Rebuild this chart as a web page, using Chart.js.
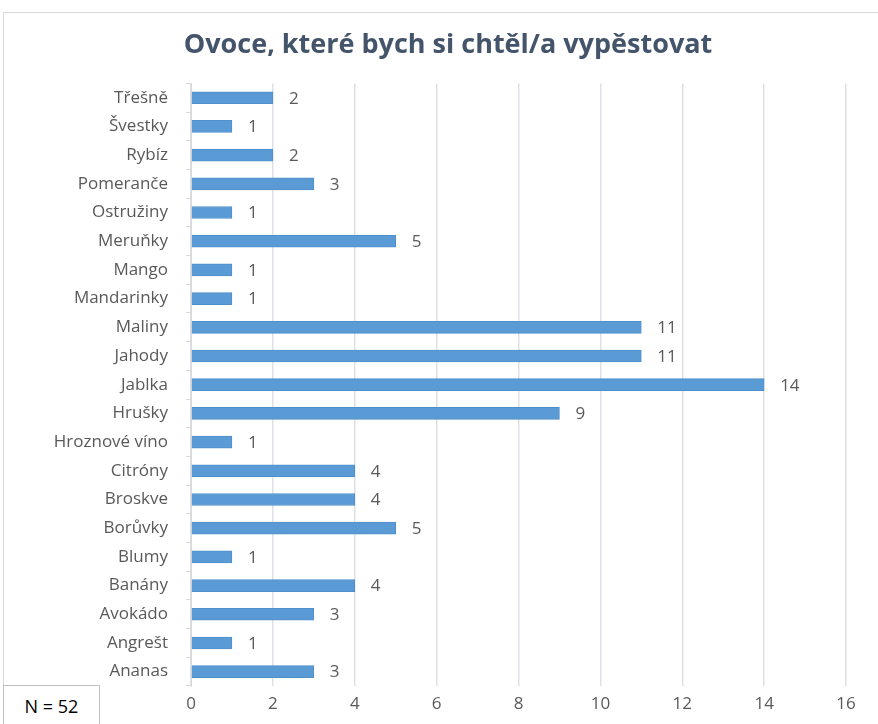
<!DOCTYPE html>
<html>
<head>
<meta charset="utf-8">
<script src="https://cdn.jsdelivr.net/npm/chart.js@4"></script>
<style>
  html, body { margin: 0; padding: 0; background: #fff; }
  #wrap { position: relative; width: 878px; height: 724px; overflow: hidden; }
  #frame { position: absolute; left: 3px; top: 12px; width: 880px; height: 720px; border: 1px solid #d9d9d9; box-sizing: border-box; }
  #n-box { position: absolute; left: 3px; top: 685px; width: 97px; height: 45px; border: 1px solid #bfbfbf; background: #fff;
           font: 18px "Open Sans", sans-serif; color: #000; line-height: 40px; text-align: center; box-sizing: border-box; }
  canvas { position: absolute; left: 0; top: 0; }
</style>
</head>
<body>
<div id="wrap">
  <div id="frame"></div>
  <canvas id="chart" width="878" height="724"></canvas>
  <div id="n-box">N = 52</div>
</div>
<script>
// data, top to bottom
const fruits = ['Třešně', 'Švestky', 'Rybíz', 'Pomeranče', 'Ostružiny', 'Meruňky', 'Mango', 'Mandarinky',
  'Maliny', 'Jahody', 'Jablka', 'Hrušky', 'Hroznové víno', 'Citróny', 'Broskve', 'Borůvky', 'Blumy',
  'Banány', 'Avokádo', 'Angrešt', 'Ananas'];
const counts = [2, 1, 2, 3, 1, 5, 1, 1, 11, 11, 14, 9, 1, 4, 4, 5, 1, 4, 3, 1, 3];
const xTicks = [0, 2, 4, 6, 8, 10, 12, 14, 16];
const chartTitle = 'Ovoce, které bych si chtěl/a vypěstovat';

const FONT = '"Open Sans", sans-serif';
const GREY = '#595959';

// hodnoty za koncem sloupce
const valueLabels = {
  id: 'valueLabels',
  afterDatasetsDraw(chart) {
    const ctx = chart.ctx;
    const meta = chart.getDatasetMeta(0);
    ctx.save();
    ctx.font = '17px ' + FONT;
    ctx.fillStyle = GREY;
    ctx.textAlign = 'left';
    ctx.textBaseline = 'middle';
    meta.data.forEach((bar, i) => {
      ctx.fillText(String(counts[i]), bar.x + 16, bar.y + 1);
    });
    ctx.restore();
  }
};

new Chart(document.getElementById('chart'), {
  type: 'bar',
  data: {
    labels: fruits,
    datasets: [{
      data: counts,
      backgroundColor: '#5b9bd5',
      borderColor: '#4f8fcc',
      borderWidth: 1,
      barThickness: 12
    }]
  },
  options: {
    indexAxis: 'y',
    responsive: false,
    animation: false,
    layout: { padding: { left: 50, right: 32, top: 0, bottom: 0 } },
    plugins: {
      legend: { display: false },
      tooltip: { enabled: false },
      title: {
        display: true,
        text: chartTitle,
        color: '#44546a',
        font: { family: FONT, size: 27, weight: 'bold' },
        padding: { top: 29, bottom: 22 }
      }
    },
    scales: {
      x: {
        min: 0,
        max: 16,
        afterBuildTicks: (scale) => { scale.ticks = xTicks.map(v => ({ value: v })); },
        afterFit: (scale) => { scale.height = 38; },
        grid: { color: '#dde1e7', lineWidth: 1.5, drawTicks: false },
        border: { display: false },
        ticks: { color: GREY, font: { family: FONT, size: 17 }, padding: 8 }
      },
      y: {
        afterFit: (scale) => { scale.width = 141; },
        grid: { offset: true, drawOnChartArea: false, drawTicks: true, tickLength: 5, color: '#d9d9d9' },
        border: { display: true, color: '#d9d9d9', width: 1 },
        ticks: { color: GREY, font: { family: FONT, size: 17 }, padding: 18, autoSkip: false }
      }
    }
  },
  plugins: [valueLabels]
});
</script>
</body>
</html>
